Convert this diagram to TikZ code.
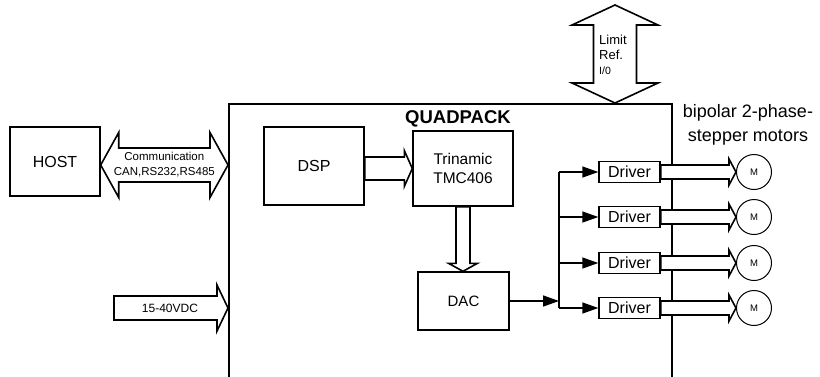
\documentclass[tikz,border=0pt]{standalone}
\usepackage{fontspec}
\setmainfont{Liberation Sans}
\usetikzlibrary{positioning,arrows.meta,calc}

\tikzset{
  block/.style={draw,line width=1.4pt,inner sep=0pt,font=\fontsize{16}{19}\selectfont},
  drvbox/.style={block,minimum width=61pt,minimum height=21pt},
  motor/.style={draw,circle,line width=1pt,minimum size=35pt,inner sep=0pt,font=\fontsize{9.5}{11}\selectfont},
  fat/.style={draw,fill=white,line width=1.6pt},
  wire/.style={line width=1.5pt,-{Triangle[length=16pt,width=11pt]}},
}

% hollow arrow: tail, tip, half shaft, half head, head length
\newcommand{\fatarrow}[5]{%
  \coordinate (fa-h) at ($(#2)!#5!(#1)$);
  \draw[fat] ($(#1)!#3!90:(#2)$) -- ($(fa-h)!#3!90:(#2)$) -- ($(fa-h)!#4!90:(#2)$) -- (#2)
    -- ($(fa-h)!#4!-90:(#2)$) -- ($(fa-h)!#3!-90:(#2)$) -- ($(#1)!#3!-90:(#2)$) -- cycle;}
% hollow arrow with two heads
\newcommand{\dblarrow}[5]{%
  \coordinate (fa-a) at ($(#1)!#5!(#2)$);
  \coordinate (fa-b) at ($(#2)!#5!(#1)$);
  \draw[fat] (#1) -- ($(fa-a)!#4!90:(#2)$) -- ($(fa-a)!#3!90:(#2)$) -- ($(fa-b)!#3!90:(#2)$)
    -- ($(fa-b)!#4!90:(#2)$) -- (#2) -- ($(fa-b)!#4!-90:(#2)$) -- ($(fa-b)!#3!-90:(#2)$)
    -- ($(fa-a)!#3!-90:(#2)$) -- ($(fa-a)!#4!-90:(#2)$) -- cycle;}

\begin{document}
\begin{tikzpicture}[x=1pt,y=-1pt]
\useasboundingbox (0,0) rectangle (820,376);
% module frame
\node[draw,line width=2pt,minimum width=443pt,minimum height=276pt] (quad) at (450.5,242) {};
\node[font=\bfseries\fontsize{18.5}{22}\selectfont] (quadlbl) at (458,119) {QUADPACK};
% blocks
\node[block,minimum width=90pt,minimum height=69pt] (host) at (55,161.5) {HOST};
\node[block,minimum width=100pt,minimum height=78pt] (dsp) at (314,166) {DSP};
\node[block,minimum width=100pt,minimum height=75pt,align=center,font=\fontsize{15.5}{19}\selectfont] (tmc) at (463,168.5) {Trinamic\\TMC406};
\node[block,minimum width=91pt,minimum height=58pt,font=\fontsize{15}{18}\selectfont] (dac) at (463.5,301) {DAC};
% drivers and motors
\foreach \i/\y in {1/172,2/217,3/263,4/308}{
  \node[drvbox] (d\i) at (629.5,\y) {Driver};
  \node[motor] (m\i) at (754,\y) {M};
}
\node[align=center,font=\fontsize{18}{24}\selectfont] (motlbl) at (748,125) {bipolar 2-phase-\\stepper motors};
% distribution bus
\coordinate (bus) at (559,299);
\draw[wire] (dac.east) -- (dac.east -| bus);
\draw[line width=1.5pt] (bus |- d1) -- (bus |- d4);
\foreach \i in {1,...,4} \draw[wire] (bus |- d\i) -- (d\i.west);
% host link
\coordinate (commA) at ([yshift=-3.5pt]host.east);
\coordinate (commB) at (quad.west |- commA);
\dblarrow{commA}{commB}{17pt}{32.5pt}{18pt}
\node[font=\fontsize{11.5}{15}\selectfont,align=center,inner sep=0pt] (commtxt) at ($(commA)!0.5!(commB)$) {Communication\\CAN,RS232,RS485};
% supply
\coordinate (vdcA) at (114,308);
\coordinate (vdcB) at (quad.west |- vdcA);
\fatarrow{vdcA}{vdcB}{12pt}{23pt}{11pt}
\node[font=\fontsize{12}{14}\selectfont,inner sep=0pt] (vdctxt) at (170,308.5) {15-40VDC};
% limit / ref
\coordinate (limA) at (615,5);
\coordinate (limB) at (limA |- quad.north);
\dblarrow{limA}{limB}{21.5pt}{43pt}{20pt}
\node[align=left,anchor=west,inner sep=0pt,font=\fontsize{13}{15}\selectfont] (limtxt) at (599,55) {Limit\\Ref.\\{\fontsize{10.5}{15}\selectfont I/0}};
% internal buses
\coordinate (dspout) at (dsp.east |- tmc.west);
\fatarrow{dspout}{tmc.west}{11.5pt}{18pt}{8pt}
\coordinate (dacin) at (tmc.south |- dac.north);
\fatarrow{tmc.south}{dacin}{7pt}{14.5pt}{8pt}
\foreach \i in {1,...,4}{ \fatarrow{d\i.east}{m\i.west}{7pt}{13pt}{7pt} }
\end{tikzpicture}
\end{document}
